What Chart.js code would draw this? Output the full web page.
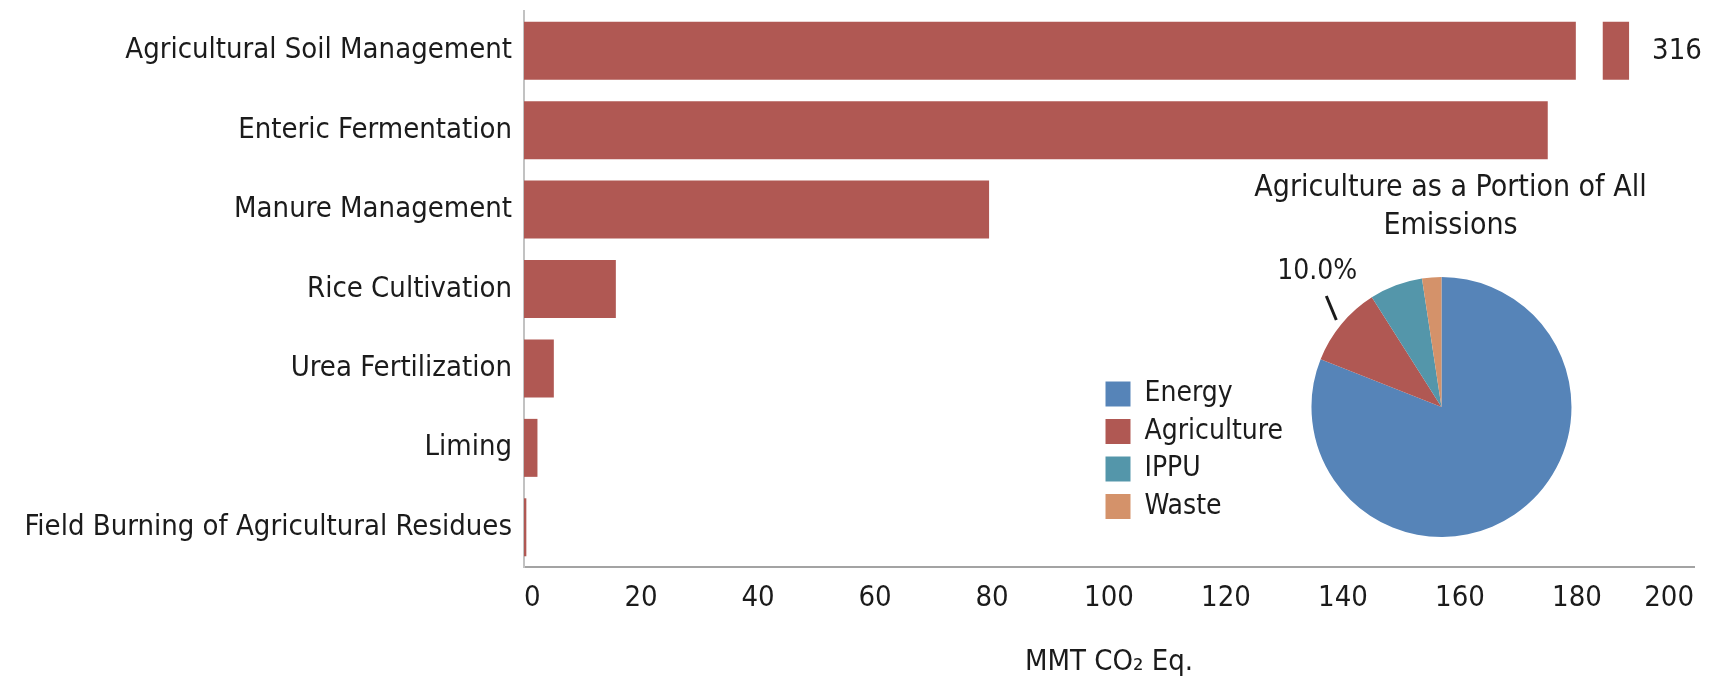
<!DOCTYPE html>
<html>
<head>
<meta charset="utf-8">
<script src="https://cdn.jsdelivr.net/npm/chart.js@4.4.1/dist/chart.umd.min.js"></script>
<style>
html, body { margin: 0; padding: 0; background: #fff; overflow: hidden; }
#main { position: absolute; left: 0; top: 0; width: 1711px; height: 680px; }
#inset { position: absolute; left: 1096px; top: 150px; width: 615px; height: 390px; }
</style>
</head>
<body>
<div id="main"><canvas id="chart-sources"></canvas></div>
<div id="inset"><canvas id="chart-share"></canvas></div>
<script>
// agriculture sources, MMT CO2 Eq.
const SOURCES = [
    'Agricultural Soil Management',
    'Enteric Fermentation',
    'Manure Management',
    'Rice Cultivation',
    'Urea Fertilization',
    'Liming',
    'Field Burning of Agricultural Residues'
];
const SOURCE_VALUES = [316, 175, 79.5, 15.7, 5.1, 2.3, 0.4];
const X_TICKS = [0, 20, 40, 60, 80, 100, 120, 140, 160, 180, 200];
const X_TITLE = 'MMT CO₂ Eq.';

// the broken first bar: cut between these values, ends at the last one
const BREAK_FROM = 179.8;
const BREAK_TO = 184.4;
const BREAK_END = 188.9;

// inset pie
const SECTORS = ['Energy', 'Agriculture', 'IPPU', 'Waste'];
const SECTOR_SHARES = [81.0, 10.0, 6.6, 2.4];
const LABELED_SECTOR = 'Agriculture';
const PIE_TITLE = ['Agriculture as a Portion of All', 'Emissions'];

const FONT = "'DejaVu Sans Condensed', 'Liberation Sans', sans-serif";
const INK = '#1b1b1b';
const RED = '#b05853';

Chart.defaults.font.family = FONT;
Chart.defaults.font.size = 29;
Chart.defaults.color = INK;
Chart.defaults.animation = false;
Chart.defaults.plugins.tooltip.enabled = false;

function noEdgePadding(s) {
    s.paddingTop = 0;
    s.paddingBottom = 0;
    s.paddingLeft = 0;
    s.paddingRight = 0;
}

const axisBreak = {
    id: 'axisBreak',
    afterDatasetsDraw(chart) {
        const ctx = chart.ctx;
        const x = chart.scales.x;
        const bar = chart.getDatasetMeta(0).data[0];
        const top = bar.y - bar.height / 2 - 1;
        const h = bar.height + 2;
        const a = x.getPixelForValue(BREAK_FROM);
        const b = x.getPixelForValue(BREAK_TO);
        const c = x.getPixelForValue(BREAK_END);
        ctx.save();
        ctx.fillStyle = '#fff';
        ctx.fillRect(a, top, b - a, h);
        ctx.fillRect(c, top, chart.width - c, h);
        ctx.fillStyle = INK;
        ctx.font = '29px ' + FONT;
        ctx.textAlign = 'left';
        ctx.textBaseline = 'middle';
        ctx.fillText(String(SOURCE_VALUES[0]), c + 23, bar.y + 1);
        ctx.restore();
    }
};

new Chart(document.getElementById('chart-sources'), {
    type: 'bar',
    data: {
        labels: SOURCES,
        datasets: [{
            data: SOURCE_VALUES,
            backgroundColor: RED,
            barPercentage: 0.73,
            categoryPercentage: 1
        }]
    },
    options: {
        responsive: true,
        maintainAspectRatio: false,
        indexAxis: 'y',
        layout: { padding: { top: 11, right: 17, left: 0, bottom: 0 } },
        plugins: { legend: { display: false } },
        scales: {
            x: {
                min: 0,
                max: 200,
                afterBuildTicks: (s) => { s.ticks = X_TICKS.map(v => ({ value: v })); },
                afterFit: (s) => { s.height = 113; noEdgePadding(s); },
                grid: { display: false, drawTicks: false },
                border: { color: '#a3a3a3', width: 2 },
                ticks: { align: 'inner', padding: 14 },
                title: { display: true, text: X_TITLE, padding: { top: 0, bottom: 0 } }
            },
            y: {
                afterFit: (s) => { s.width = 524; noEdgePadding(s); },
                grid: { display: false, drawTicks: false },
                border: { color: '#c2c2c2', width: 2 },
                ticks: { padding: 12 }
            }
        }
    },
    plugins: [axisBreak]
});

// the inset title is wider than the pie's own area: let it run over the legend side
const wideTitle = {
    id: 'wideTitle',
    afterLayout(chart) {
        const t = chart.titleBlock;
        t.left -= 70;
        t.right += 88;
        t.width = t.right - t.left;
    }
};

const shareLabel = {
    id: 'shareLabel',
    afterDatasetsDraw(chart) {
        const ctx = chart.ctx;
        const i = SECTORS.indexOf(LABELED_SECTOR);
        const arc = chart.getDatasetMeta(0).data[i];
        const mid = (arc.startAngle + arc.endAngle) / 2;
        const r = arc.outerRadius * 1.05;
        const x0 = arc.x + Math.cos(mid) * r;
        const y0 = arc.y + Math.sin(mid) * r;
        ctx.save();
        ctx.strokeStyle = INK;
        ctx.lineWidth = 3;
        ctx.beginPath();
        ctx.moveTo(x0, y0);
        ctx.lineTo(x0 - 10, y0 - 24);
        ctx.stroke();
        ctx.fillStyle = INK;
        ctx.font = '28px ' + FONT;
        ctx.textAlign = 'center';
        ctx.textBaseline = 'middle';
        ctx.fillText(SECTOR_SHARES[i].toFixed(1) + '%', x0 - 19, y0 - 48);
        ctx.restore();
    }
};

new Chart(document.getElementById('chart-share'), {
    type: 'pie',
    data: {
        labels: SECTORS,
        datasets: [{
            data: SECTOR_SHARES,
            backgroundColor: ['#5684b8', RED, '#5496aa', '#d4926a'],
            borderWidth: 0,
            radius: 130,
            clip: false
        }]
    },
    options: {
        responsive: true,
        maintainAspectRatio: false,
        layout: { padding: { top: 0, right: 121, left: 0, bottom: 10 } },
        plugins: {
            title: {
                display: true,
                text: PIE_TITLE,
                fullSize: false,
                color: INK,
                font: { size: 30, weight: 'normal', lineHeight: 1.267 },
                padding: { top: 19, bottom: 39 }
            },
            legend: {
                position: 'left',
                align: 'end',
                labels: { boxWidth: 25, boxHeight: 25, padding: 9.5, font: { size: 28 } }
            }
        }
    },
    plugins: [shareLabel, wideTitle]
});
</script>
</body>
</html>
